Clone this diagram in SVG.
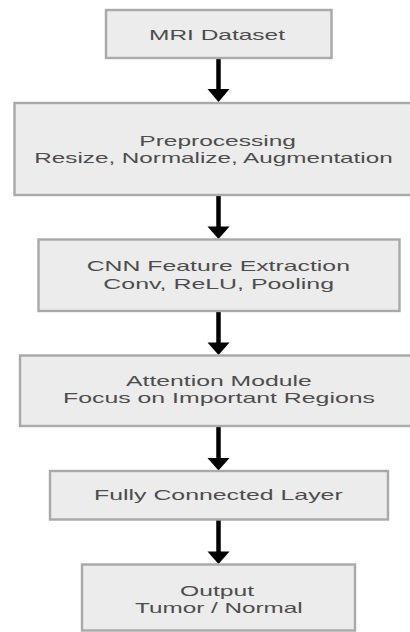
<svg xmlns="http://www.w3.org/2000/svg" width="410" height="632" viewBox="0 0 410 632">
<defs>
<style>
.box{fill:#ececec;stroke:#a9a9a9;stroke-width:2.4}
.t{font-family:"Liberation Sans",Arial,sans-serif;font-size:15px;fill:#4d4d4d}
.shaft{stroke:#000;stroke-width:4.5;fill:none}
.head{fill:#000}
</style>
</defs>
<rect width="410" height="632" fill="#fff"/>
<g id="connectors">
<line class="shaft" x1="218.5" y1="58" x2="218.5" y2="90"/>
<polygon class="head" points="207.5,89 229.5,89 218.5,102"/>
<line class="shaft" x1="218.5" y1="195" x2="218.5" y2="227"/>
<polygon class="head" points="207.5,226.5 229.5,226.5 218.5,239"/>
<line class="shaft" x1="218.5" y1="311" x2="218.5" y2="343"/>
<polygon class="head" points="207.5,342.5 229.5,342.5 218.5,355"/>
<line class="shaft" x1="218.5" y1="426" x2="218.5" y2="459"/>
<polygon class="head" points="207.5,458 229.5,458 218.5,470.5"/>
<line class="shaft" x1="218.5" y1="519.5" x2="218.5" y2="552"/>
<polygon class="head" points="207.5,551.5 229.5,551.5 218.5,564"/>
</g>
<g id="mri">
<rect class="box" x="106" y="10" width="225.5" height="48"/>
<text class="t" x="149" y="39.5" textLength="136" lengthAdjust="spacingAndGlyphs">MRI Dataset</text>
</g>
<g id="preprocessing">
<rect class="box" x="14.5" y="103" width="412" height="92"/>
<text class="t" x="139.3" y="145.7" textLength="156.7" lengthAdjust="spacingAndGlyphs">Preprocessing</text>
<text class="t" x="34.3" y="162.7" textLength="358.4" lengthAdjust="spacingAndGlyphs">Resize, Normalize, Augmentation</text>
</g>
<g id="cnn">
<rect class="box" x="38.5" y="239.5" width="361" height="71.5"/>
<text class="t" x="86.7" y="271" textLength="263.3" lengthAdjust="spacingAndGlyphs">CNN Feature Extraction</text>
<text class="t" x="103.3" y="289.3" textLength="230.7" lengthAdjust="spacingAndGlyphs">Conv, ReLU, Pooling</text>
</g>
<g id="attention">
<rect class="box" x="20" y="355.5" width="398" height="70.5"/>
<text class="t" x="126" y="386" textLength="185.7" lengthAdjust="spacingAndGlyphs">Attention Module</text>
<text class="t" x="63" y="403.3" textLength="312" lengthAdjust="spacingAndGlyphs">Focus on Important Regions</text>
</g>
<g id="fc">
<rect class="box" x="50" y="471" width="338" height="48.5"/>
<text class="t" x="94" y="500" textLength="248.7" lengthAdjust="spacingAndGlyphs">Fully Connected Layer</text>
</g>
<g id="output">
<rect class="box" x="82" y="564.5" width="273" height="66"/>
<text class="t" x="180" y="596" textLength="74" lengthAdjust="spacingAndGlyphs">Output</text>
<text class="t" x="135" y="613.3" textLength="167.7" lengthAdjust="spacingAndGlyphs">Tumor / Normal</text>
</g>
</svg>
